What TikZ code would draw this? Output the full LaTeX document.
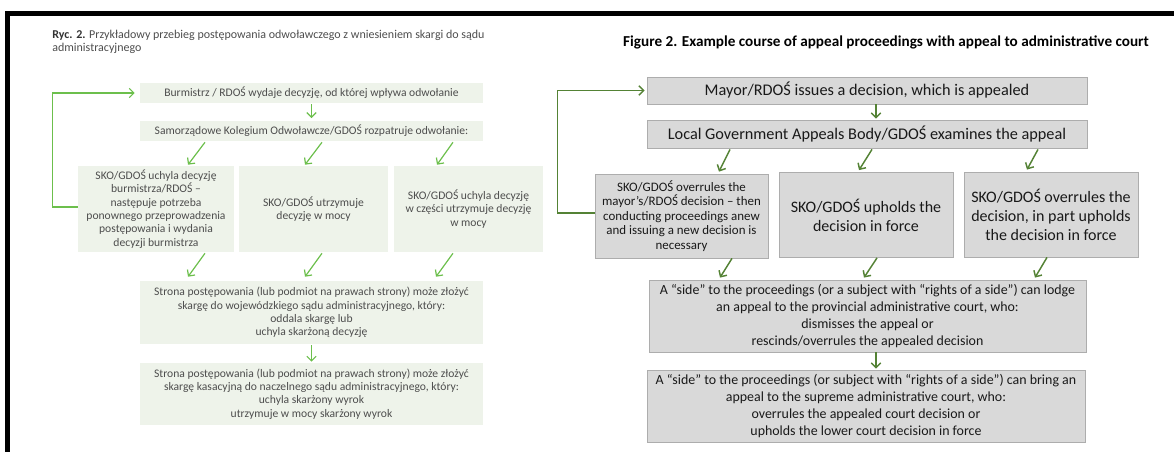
\documentclass[tikz,border=0pt]{standalone}
\usepackage{fontspec}
\setmainfont{Carlito}
\usetikzlibrary{calc,arrows.meta}
\definecolor{plgreen}{HTML}{6CBF4C}
\definecolor{plfill}{HTML}{EEF3EA}
\definecolor{pltext}{HTML}{4D4D4D}
\definecolor{engreen}{HTML}{548235}
\definecolor{enfill}{HTML}{D9D9D9}
\definecolor{enline}{HTML}{ADADAD}

\begin{document}
\begin{tikzpicture}[x=0.75pt,y=-0.75pt]
      \tikzstyle{every node}+=[inner sep=0pt, align=center]
      \tikzstyle{plbox}=[fill=plfill, text=pltext, font=\fontsize{8.7}{10}\selectfont]
      \tikzstyle{enbox}=[fill=enfill, draw=enline, line width=0.6pt, text=black!90]
      \tikzstyle{plarrow}=[draw=plgreen, line width=0.9pt, -{Straight Barb[length=3.5pt,width=7pt]}]
      \tikzstyle{enarrow}=[draw=engreen, line width=1.1pt, -{Straight Barb[length=3.5pt,width=7pt]}]
      \useasboundingbox (0,0) rectangle (1174,452);
      \fill [black] (5,11) rectangle (1174,16);
      \fill [black] (5,11) rectangle (10,452);
      % Polish version
      \node [anchor=north west, align=left, text=pltext, font=\fontsize{9}{9.6}\selectfont] (pltitle) at (52,30)
        {\textbf{\color{black!80}Ryc. 2.} Przykładowy przebieg postępowania odwoławczego z wniesieniem skargi do sądu\\administracyjnego};
      \node [plbox, minimum width=257.25pt, minimum height=15pt] (b1) at (311.5,93)
        {Burmistrz / RDOŚ wydaje decyzję, od której wpływa odwołanie};
      \node [plbox, minimum width=257.25pt, minimum height=15pt] (b2) at (311.5,131)
        {Samorządowe Kolegium Odwoławcze/GDOŚ rozpatruje odwołanie:};
      \node [plbox, minimum width=117pt, minimum height=64.5pt] (l1) at (156,209)
        {SKO/GDOŚ uchyla decyzję\\burmistrza/RDOŚ –\\następuje potrzeba\\ponownego przeprowadzenia\\postępowania i wydania\\decyzji burmistrza};
      \node [plbox, minimum width=111.75pt, minimum height=64.5pt] (l2) at (313.5,209)
        {SKO/GDOŚ utrzymuje\\decyzję w mocy};
      \node [plbox, minimum width=111.75pt, minimum height=64.5pt] (l3) at (468.5,209)
        {SKO/GDOŚ uchyla decyzję\\w części utrzymuje decyzję\\w mocy};
      \node [plbox, minimum width=257.25pt, minimum height=47.25pt] (b4) at (311.5,312.5)
        {Strona postępowania (lub podmiot na prawach strony) może złożyć\\skargę do wojewódzkiego sądu administracyjnego, który:\\oddala skargę lub\\uchyla skarżoną decyzję};
      \node [plbox, minimum width=257.25pt, minimum height=46.5pt] (b5) at (311.5,394)
        {Strona postępowania (lub podmiot na prawach strony) może złożyć\\skargę kasacyjną do naczelnego sądu administracyjnego, który:\\uchyla skarżony wyrok\\utrzymuje w mocy skarżony wyrok};
      \draw [plarrow, shorten <=0.75pt, shorten >=2pt] (b1.south) -- (b2.north);
      \draw [plarrow] ($(b2.south)+(-106.5,1)$) -- ($(l1.north)+(32,-1)$);
      \draw [plarrow] ($(b2.south)+(10.5,1)$) -- ($(l2.north)+(-8.5,-1)$);
      \draw [plarrow] ($(b2.south)+(141.5,1)$) -- ($(l3.north)+(-31.5,-1)$);
      \draw [plarrow] ($(l1.south)+(49,1)$) -- ($(b4.north)+(-123.5,-4)$);
      \draw [plarrow] ($(l2.south)+(8.5,1)$) -- ($(b4.north)+(-6.5,-4)$);
      \draw [plarrow] ($(l3.south)+(-15.5,1)$) -- ($(b4.north)+(124.5,-4)$);
      \draw [plarrow, shorten <=0.75pt, shorten >=0.75pt] (b4.south) -- (b5.north);
      \draw [plarrow, shorten >=3.75pt] ($(l1.west)+(0,-2)$) -- ++(-25,0) |- (b1.west);
      % English version
      \node [font=\fontsize{11.4}{13}\selectfont\bfseries] (entitle) at (886,42)
        {Figure 2. Example course of appeal proceedings with appeal to administrative court};
      \node [enbox, minimum width=330pt, minimum height=20.25pt, font=\fontsize{12.2}{13}\selectfont] (r1) at (867,90.5)
        {Mayor/RDOŚ issues a decision, which is appealed};
      \node [enbox, minimum width=330pt, minimum height=21pt, font=\fontsize{12.2}{13}\selectfont] (r2) at (867,134)
        {Local Government Appeals Body/GDOŚ examines the appeal};
      \node [enbox, minimum width=129.75pt, minimum height=63pt, font=\fontsize{9.7}{10.9}\selectfont] (ra) at (681.5,216)
        {SKO/GDOŚ overrules the\\mayor’s/RDOŚ decision – then\\conducting proceedings anew\\and issuing a new decision is\\necessary};
      \node [enbox, minimum width=130.5pt, minimum height=63.75pt, font=\fontsize{12}{14.25}\selectfont] (rb) at (866,215)
        {SKO/GDOŚ upholds the\\decision in force};
      \node [enbox, minimum width=130.5pt, minimum height=63.75pt, font=\fontsize{12}{14.25}\selectfont] (rc) at (1051,214.5)
        {SKO/GDOŚ overrules the\\decision, in part upholds\\the decision in force};
      \node [enbox, minimum width=327.75pt, minimum height=54pt, font=\fontsize{10.45}{12.75}\selectfont] (r4) at (867.5,316)
        {A “side” to the proceedings (or a subject with “rights of a side”) can lodge\\an appeal to the provincial administrative court, who:\\dismisses the appeal or\\rescinds/overrules the appealed decision};
      \node [enbox, minimum width=328.5pt, minimum height=54pt, font=\fontsize{10.45}{12.75}\selectfont] (r5) at (866,406)
        {A “side” to the proceedings (or subject with “rights of a side”) can bring an\\appeal to the supreme administrative court, who:\\overrules the appealed court decision or\\upholds the lower court decision in force};
      \draw [enarrow, shorten >=0.75pt] ($(r1.south)+(9,0)$) -- ($(r2.north)+(9,0)$);
      \draw [enarrow] ($(r2.south)+(-137,1)$) -- ($(ra.north)+(37.5,-2)$);
      \draw [enarrow] ($(r2.south)+(5,1)$) -- ($(rb.north)+(-7,-2)$);
      \draw [enarrow] ($(r2.south)+(171,1)$) -- ($(rc.north)+(-24,-2)$);
      \draw [enarrow] ($(ra.south)+(50.5,0)$) -- ($(r4.north)+(-147.5,-2)$);
      \draw [enarrow] ($(rb.south)+(11,0)$) -- ($(r4.north)+(-3.5,-2)$);
      \draw [enarrow] ($(rc.south)+(-4,0)$) -- ($(r4.north)+(167.5,-2)$);
      \draw [enarrow, shorten >=0.75pt] ($(r4.south)+(8.5,0)$) -- ($(r5.north)+(10,0)$);
      \draw [enarrow, shorten >=1.5pt] ($(ra.west)+(0,-3)$) -- ++(-37,0) |- (r1.west);
\end{tikzpicture}
\end{document}
